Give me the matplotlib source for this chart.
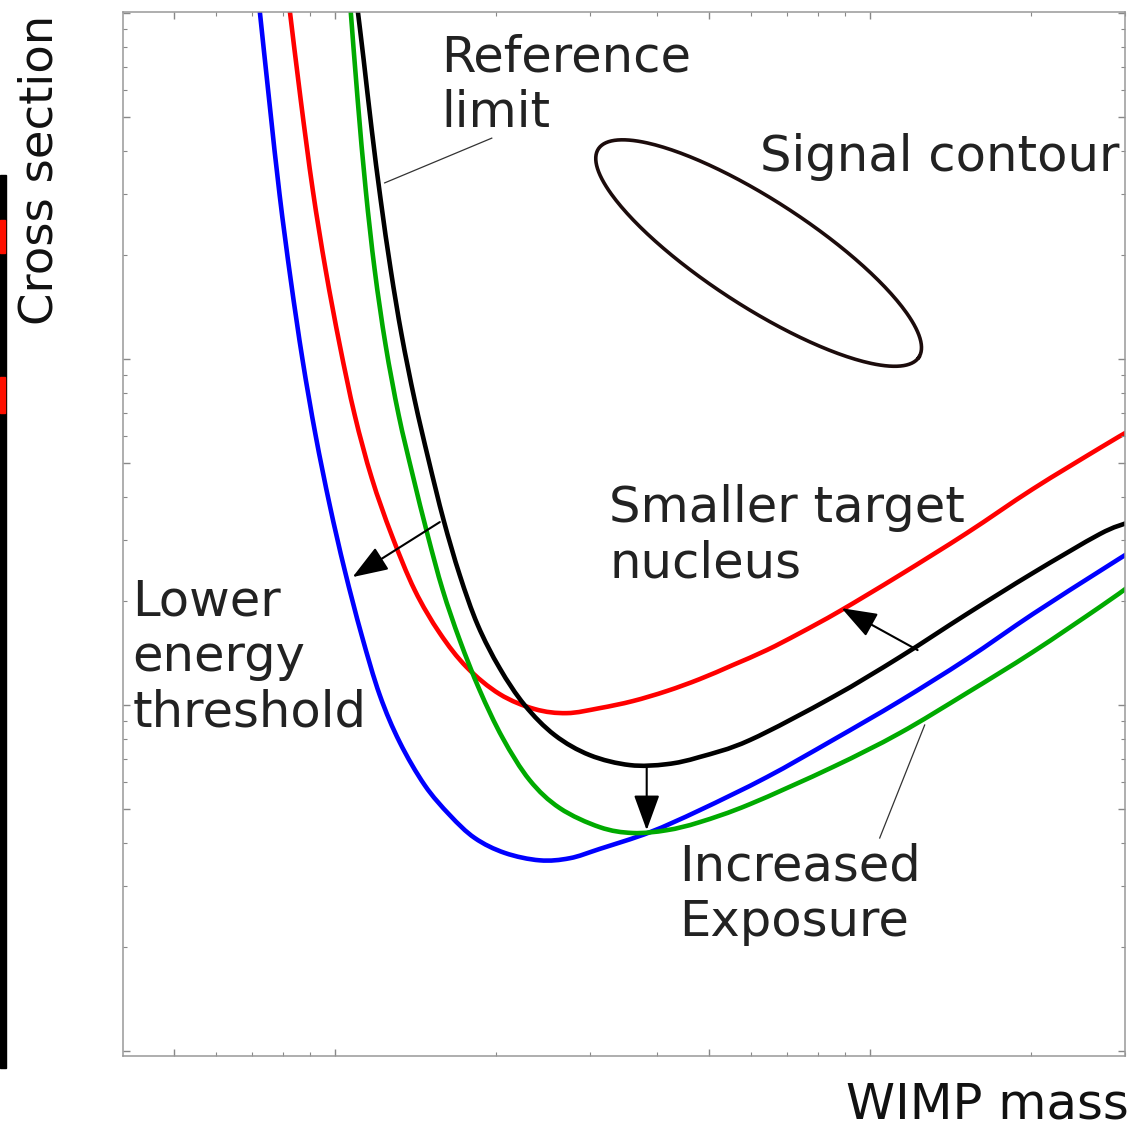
import numpy as np
import matplotlib
matplotlib.use('Agg')
import matplotlib.pyplot as plt
from matplotlib.ticker import LogLocator, NullFormatter, FixedLocator
from matplotlib.patches import Rectangle, PathPatch
from matplotlib.path import Path

# WIMP mass (arbitrary units) and cross section
blue_x = [7.24, 7.56, 7.89, 8.277, 8.71, 9.21, 9.79, 10.44, 11.23, 12.14, 13.23, 14.73, 16.41, 18.27,
          20.79, 24.16, 27.50, 31.28, 38.80, 48.12, 64.20, 85.27, 113.8, 151.8, 201.7, 269.1, 302.3]
blue_y = [10.2, 5.42, 2.98, 1.692, 0.993, 0.603, 0.378, 0.2455, 0.1593, 0.1069, 0.0781, 0.0587, 0.0481, 0.0413,
          0.0374, 0.0356, 0.0361, 0.0384, 0.0429, 0.0497, 0.0619, 0.0792, 0.1027, 0.1358, 0.1832, 0.2439, 0.2732]

red_x = [8.24, 8.64, 9.10, 9.62, 10.22, 10.90, 11.73, 12.78, 14.11, 15.72, 17.65, 20.34, 23.65, 27.14,
         31.28, 36.06, 41.75, 48.12, 55.45, 64.20, 73.98, 87.88, 113.8, 151.8, 201.7, 269.1, 302.3]
red_y = [10.2, 5.61, 3.08, 1.808, 1.098, 0.689, 0.453, 0.310, 0.215, 0.1614, 0.1287, 0.1076, 0.0974, 0.0948,
         0.098, 0.1027, 0.1098, 0.1189, 0.1305, 0.1442, 0.1614, 0.1869, 0.2375, 0.314, 0.421, 0.553, 0.615]

green_x = [10.71, 11.04, 11.43, 11.88, 12.45, 13.17, 13.99, 14.92, 15.92, 17.13, 18.66, 20.61, 23.14,
           26.34, 31.28, 36.06, 41.75, 48.12, 59.67, 85.27, 113.8, 151.8, 201.7, 269.1, 302.3]
green_y = [10.2, 5.61, 3.08, 1.808, 1.098, 0.689, 0.462, 0.310, 0.215, 0.1541, 0.1105, 0.0803, 0.0607,
           0.0504, 0.0444, 0.0427, 0.0435, 0.0459, 0.0517, 0.0662, 0.0830, 0.1083, 0.1423, 0.192, 0.218]

black_x = [11.04, 11.33, 11.73, 12.19, 12.73, 13.34, 14.11, 14.98, 15.98, 17.13, 18.51, 20.34, 22.65,
           25.78, 29.97, 35.60, 41.75, 48.12, 59.67, 85.27, 113.8, 151.8, 201.7, 269.1, 302.3]
black_y = [10.2, 7.31, 4.59, 2.88, 1.808, 1.173, 0.761, 0.511, 0.3425, 0.2375, 0.1703, 0.1279, 0.100,
           0.0819, 0.0717, 0.0671, 0.0675, 0.0708, 0.0792, 0.1055, 0.1376, 0.1832, 0.2407, 0.312, 0.336]

# signal contour: centre and half axes (in decades)
sig_center = (62.0, 2.025)
sig_major = (0.2996, -0.3009)
sig_minor = (-0.0540, -0.1286)

FS = 35.7
plt.rcParams['font.family'] = ['DejaVu Sans']


def smooth_path(xs, ys):
    # cubic bezier through the read points (drawn in log space)
    p = np.column_stack([np.log10(xs), np.log10(ys)])
    verts = [p[0]]
    codes = [Path.MOVETO]
    n = len(p)
    for i in range(n - 1):
        p0 = p[i - 1] if i > 0 else p[i]
        p1, p2 = p[i], p[i + 1]
        p3 = p[i + 2] if i + 2 < n else p[i + 1]
        verts += [p1 + (p2 - p0) / 6, p2 - (p3 - p1) / 6, p2]
        codes += [Path.CURVE4] * 3
    return Path(10 ** np.array(verts), codes)


fig = plt.figure(figsize=(11.28, 11.22), dpi=100)
ax = fig.add_axes([0.1090, 0.0588, 0.8883, 0.9305])
ax.set_xscale('log')
ax.set_yscale('log')

for xs, ys, col in [(blue_x, blue_y, '#0000ff'), (red_x, red_y, '#ff0000'),
                    (green_x, green_y, '#00aa00'), (black_x, black_y, 'black')]:
    ax.add_patch(PathPatch(smooth_path(xs, ys), fill=False, edgecolor=col, lw=3.3, capstyle='round'))

t = np.linspace(0, 2 * np.pi, 300)
ex = 10 ** (np.log10(sig_center[0]) + sig_major[0] * np.cos(t) + sig_minor[0] * np.sin(t))
ey = 10 ** (np.log10(sig_center[1]) + sig_major[1] * np.cos(t) + sig_minor[1] * np.sin(t))
ax.plot(ex, ey, color='#1c0c0c', lw=2.6)

ax.set_xlim(4.02, 300)
ax.set_ylim(0.00968, 10.07)

# ticks: no labels, inward, all four sides
ax.xaxis.set_major_locator(FixedLocator([5, 10, 50, 100]))
ax.xaxis.set_minor_locator(FixedLocator([6, 7, 8, 9, 20, 30, 40, 60, 70, 80, 90, 200, 300]))
ax.yaxis.set_major_locator(LogLocator(base=10, subs=(1.0, 5.0)))
ax.yaxis.set_minor_locator(LogLocator(base=10, subs=(2, 3, 4, 6, 7, 8, 9)))
ax.xaxis.set_major_formatter(NullFormatter())
ax.xaxis.set_minor_formatter(NullFormatter())
ax.yaxis.set_major_formatter(NullFormatter())
ax.yaxis.set_minor_formatter(NullFormatter())
ax.tick_params(which='both', direction='in', top=True, right=True, color='#888888')
ax.tick_params(which='major', length=5, width=1.0)
ax.tick_params(which='minor', length=3, width=0.8)
for sp in ax.spines.values():
    sp.set_color('#999999')
    sp.set_linewidth(1.1)

# leader lines and arrows
ax.plot([12.40, 19.66], [3.23, 4.35], color='#333333', lw=0.9)
ax.plot([126.7, 104.4], [0.0876, 0.0413], color='#333333', lw=0.9)
arrow = dict(arrowstyle='-|>,head_length=1.1,head_width=0.4', mutation_scale=20,
             color='black', lw=1.5, shrinkA=0, shrinkB=0)
ax.annotate('', xy=(10.80, 0.2344), xytext=(15.72, 0.338), arrowprops=arrow)
ax.annotate('', xy=(88.6, 0.1906), xytext=(122.9, 0.1442), arrowprops=arrow)
ax.annotate('', xy=(38.3, 0.0435), xytext=(38.3, 0.0662), arrowprops=arrow)

# labels
tc = '#222222'
fig.text(0.3910, 0.9700, 'Reference\nlimit', fontsize=FS, va='top', ha='left', color=tc)
fig.text(0.6737, 0.8815, 'Signal contour', fontsize=FS, va='top', ha='left', color=tc)
fig.text(0.5400, 0.5690, 'Smaller target\nnucleus', fontsize=FS, va='top', ha='left', color=tc)
fig.text(0.1172, 0.4855, 'Lower\nenergy\nthreshold', fontsize=FS, va='top', ha='left', color=tc)
fig.text(0.6025, 0.2495, 'Increased\nExposure', fontsize=FS, va='top', ha='left', color=tc)
fig.text(0.7500, 0.0370, 'WIMP mass', fontsize=FS, va='top', ha='left', color='#111111')
fig.text(0.0151, 0.7103, 'Cross section', fontsize=33.5, rotation=90, va='bottom', ha='left', color='#111111')

# dark strip on the left edge of the original picture
fig.patches.append(Rectangle((0, 1 - 1068 / 1122), 6 / 1128, 893 / 1122,
                             transform=fig.transFigure, color='black', zorder=5))
fig.patches.append(Rectangle((0, 1 - 253 / 1122), 5 / 1128, 33 / 1122,
                             transform=fig.transFigure, color='#ff1000', zorder=6))
fig.patches.append(Rectangle((0, 1 - 413 / 1122), 5 / 1128, 36 / 1122,
                             transform=fig.transFigure, color='#ff1000', zorder=6))

fig.savefig('out.png', dpi=100)
